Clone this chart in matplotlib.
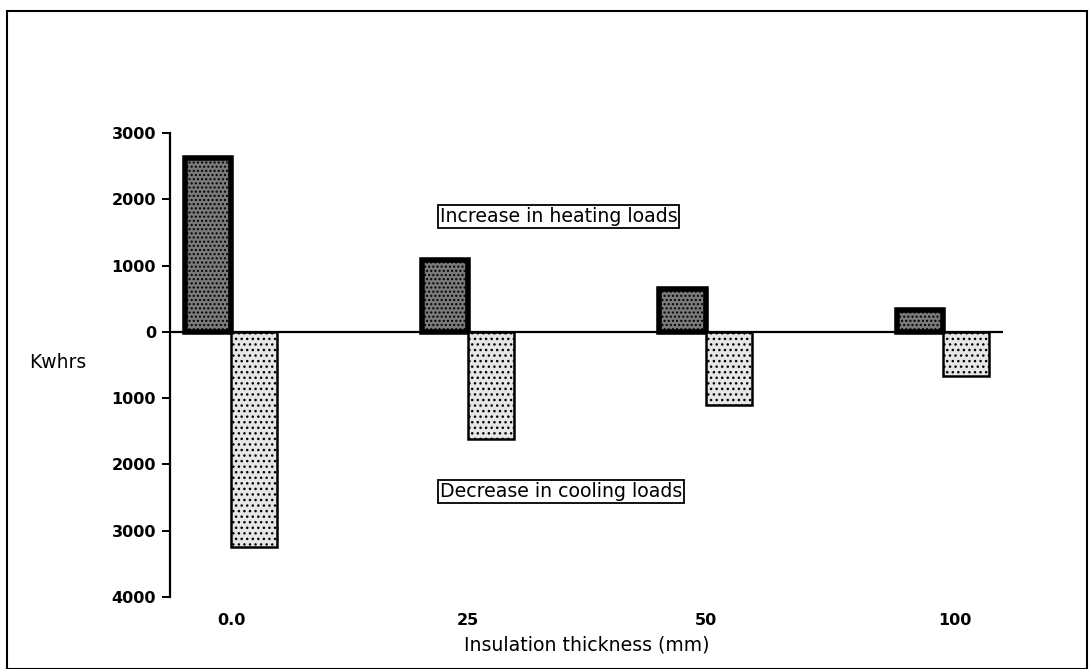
import matplotlib.pyplot as plt
from matplotlib.patches import Rectangle

# values (Kwhrs)
thickness = ["0.0", "25", "50", "100"]
heating_increase = [2620, 1080, 650, 330]
cooling_decrease = [3250, 1620, 1100, 660]
label_offset = [0.0, 0.0, 0.0, 0.05]
y_ticks = [3000, 2000, 1000, 0, -1000, -2000, -3000, -4000]

plt.rcParams['font.family'] = ['DejaVu Sans']
plt.rcParams['hatch.linewidth'] = 1.0

fig = plt.figure(figsize=(10.9, 6.69), dpi=100)
ax = fig.add_axes([0.156, 0.108, 0.764, 0.693])

w = 0.194
x = list(range(len(thickness)))
heat_x = [i - w / 2 for i in x]
cool_x = [i + w / 2 for i in x]
ax.bar(heat_x, heating_increase, width=w, facecolor="#7a7a7a",
       edgecolor="black", linewidth=4, hatch="....")
ax.bar(cool_x, [-v for v in cooling_decrease], width=w, facecolor="#e6e6e6",
       edgecolor="black", linewidth=1.8, hatch="...")

ax.axhline(0, color="black", linewidth=1.6, zorder=0)

ax.set_xlim(-0.257, 3.253)
ax.set_ylim(-4000, 3000)
ax.set_yticks(y_ticks)
ax.set_yticklabels([str(abs(v)) for v in y_ticks], fontsize=11.5, fontweight="bold")
ax.set_xticks([i + o for i, o in zip(x, label_offset)])
ax.set_xticklabels(thickness, fontsize=11.5, fontweight="bold")
ax.tick_params(axis="x", length=0, pad=12)
ax.tick_params(axis="y", length=6, width=1.4, direction="out", pad=4)

for s in ["top", "right", "bottom"]:
    ax.spines[s].set_visible(False)
ax.spines["left"].set_linewidth(1.6)

ax.set_xlabel("Insulation thickness (mm)", fontsize=13.6, labelpad=5)
fig.text(0.053, 1 - 362 / 669, "Kwhrs", fontsize=13.5, va="center", ha="center")

box = dict(boxstyle="square,pad=0.1", facecolor="white", edgecolor="black", linewidth=1.3)
ax.text(1.38, 1740, "Increase in heating loads", fontsize=13.6,
        ha="center", va="center", bbox=box)
ax.text(1.39, -2410, "Decrease in cooling loads", fontsize=13.6,
        ha="center", va="center", bbox=box)

# outer frame
fig.patches.append(Rectangle((0.006, 0.0), 0.991, 0.983, transform=fig.transFigure,
                             fill=False, edgecolor="black", linewidth=1.5))

fig.savefig("out.png", dpi=100)
